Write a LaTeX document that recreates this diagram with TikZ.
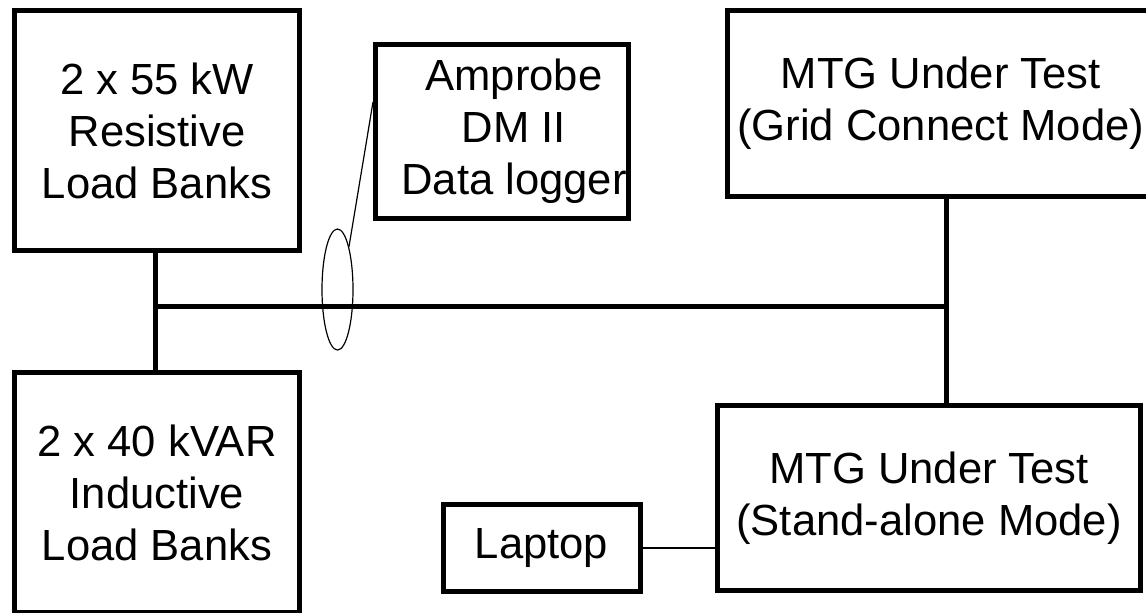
\documentclass[tikz,border=0pt]{standalone}
\usepackage{fontspec}
\setmainfont{Liberation Sans}
\usetikzlibrary{shapes.geometric}

\tikzstyle{bx}=[rectangle,draw,line width=2.5pt,inner sep=0pt,align=center,font=\fontsize{21.8}{26}\selectfont]
\tikzstyle{tx}=[rectangle,inner sep=0pt,align=center,font=\fontsize{21.8}{26}\selectfont]
\tikzstyle{bus}=[line width=2.5pt]
\tikzstyle{wi}=[line width=0.6pt]

\begin{document}
\begin{tikzpicture}[x=0.5pt,y=-0.5pt]
\useasboundingbox (0,0) rectangle (1146,612);
\clip (0,0) rectangle (1146,612);

%Load banks on the left
\node [bx,minimum width=142.5pt,minimum height=120pt] at (157,130.5) (res) {2 x 55 kW\\Resistive\\Load Banks};
\node [bx,minimum width=142.5pt,minimum height=120pt] at (157,492.5) (ind) {2 x 40 kVAR\\Inductive\\Load Banks};

%Data logger and its clamp on the bus
\node [bx,minimum width=126.5pt,minimum height=87pt] at (502,131.5) (logger) {};
\node [tx] at (514,131.5) (loggertx) {Amprobe\\DM II\\Data logger};
\node [ellipse,draw,line width=0.6pt,inner sep=0pt,minimum width=15.5pt,minimum height=60.5pt] at (337.5,289.5) (clamp) {};

%MTG in both modes
\node [bx,minimum width=213.5pt,minimum height=93pt] at (940.75,103.5) (gridmtg) {MTG Under Test\\(Grid Connect Mode)};
\node [bx,minimum width=211.5pt,minimum height=92.5pt] at (929,498) (standmtg) {MTG Under Test\\(Stand-alone Mode)};
\node [bx,minimum width=98.5pt,minimum height=43.25pt] at (541.5,548) (laptop) {Laptop};

\coordinate (busw) at (155.5,306.5);
\coordinate (buse) at (946.5,306.5);

\draw [bus] (busw) -- (buse);
\draw [bus] (res.south -| busw) -- (ind.north -| busw);
\draw [bus] (gridmtg.south -| buse) -- (standmtg.north -| buse);

\draw [wi] (clamp.75) -- ([yshift=14.75pt]logger.west);
\draw [wi] (laptop.east) -- (laptop.east -| standmtg.west);

\end{tikzpicture}
\end{document}
